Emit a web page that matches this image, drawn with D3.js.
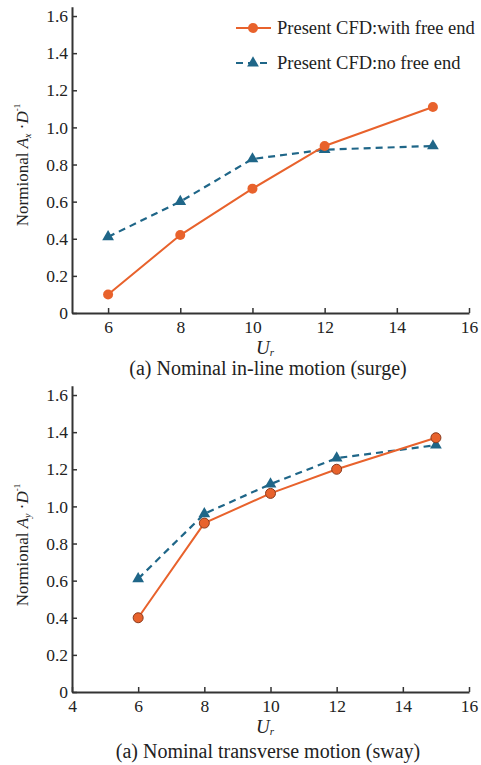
<!DOCTYPE html>
<html>
<head>
<meta charset="utf-8">
<script src="https://cdn.jsdelivr.net/npm/d3@7"></script>
<style>
  body { margin: 0; background: #fff; }
  svg { font-family: "Liberation Serif", "Times New Roman", serif; }
</style>
</head>
<body>
<svg id="chart" width="481" height="765"></svg>
<script>

var UR = [6, 8, 10, 12, 15];

// (a) surge
var surgeFree = [0.10, 0.42, 0.67, 0.90, 1.11];
var surgeNoFree = [0.41, 0.60, 0.83, 0.88, 0.90];

// (b) sway
var swayFree = [0.40, 0.91, 1.07, 1.20, 1.37];
var swayNoFree = [0.61, 0.96, 1.12, 1.26, 1.33];

var Y_TICKS = [0, 0.2, 0.4, 0.6, 0.8, 1.0, 1.2, 1.4, 1.6];
var X_TICKS_TOP = [6, 8, 10, 12, 14, 16];
var X_TICKS_BOT = [4, 6, 8, 10, 12, 14, 16];

var LEGEND = ["Present CFD:with free end", "Present CFD:no free end"];

var ORANGE = "#e8622c";
var BLUE = "#1f6688";
var AXIS = "#333";
var SERIF = "Liberation Serif, Times New Roman, serif";

var svg = d3.select("#chart");

var fmt = function(d) { return d === 0 ? "0" : d3.format(".1f")(d); };

var panel = function(opt) {
  var x = d3.scaleLinear().domain(opt.xdom).range([opt.left, opt.right]);
  var y = d3.scaleLinear().domain([0, 1.65]).range([opt.bottom, opt.bottom - 1.65 * 185.6]);

  var g = svg.append("g");

  var ax = g.append("g")
    .attr("transform", "translate(0," + opt.bottom + ")")
    .call(d3.axisBottom(x).tickValues(opt.xticks).tickSizeInner(-5).tickSizeOuter(0).tickPadding(8));
  var ay = g.append("g")
    .attr("transform", "translate(" + opt.left + ",0)")
    .call(d3.axisLeft(y).tickValues(Y_TICKS).tickFormat(fmt).tickSizeInner(-5).tickSizeOuter(0).tickPadding(4));

  [ax, ay].forEach(function(a) {
    a.attr("font-family", SERIF);
    a.select(".domain").attr("stroke", AXIS).attr("stroke-width", 2);
    a.selectAll(".tick line").attr("stroke", AXIS).attr("stroke-width", 1.5);
    a.selectAll("text").attr("fill", "#222").style("font-size", "17.5px");
  });

  var line = d3.line()
    .x(function(d, i) { return x(UR[i]); })
    .y(function(d) { return y(d); });

  g.append("path").datum(opt.noFree)
    .attr("d", line).attr("fill", "none")
    .attr("stroke", BLUE).attr("stroke-width", 2.2).attr("stroke-dasharray", "7,5");
  g.append("path").datum(opt.free)
    .attr("d", line).attr("fill", "none")
    .attr("stroke", ORANGE).attr("stroke-width", 2);

  var tri = d3.symbol().type(d3.symbolTriangle).size(60);
  g.selectAll(".tri").data(opt.noFree).enter().append("path")
    .attr("transform", function(d, i) { return "translate(" + x(UR[i]) + "," + y(d) + ")"; })
    .attr("d", tri).attr("fill", BLUE);

  g.selectAll(".dot").data(opt.free).enter().append("circle")
    .attr("cx", function(d, i) { return x(UR[i]); })
    .attr("cy", function(d) { return y(d); })
    .attr("r", 5)
    .attr("fill", ORANGE)
    .attr("stroke", opt.outline ? "#8a3b1e" : "none")
    .attr("stroke-width", 1);

  // y title
  var yt = g.append("text")
    .attr("transform", "translate(28," + opt.ymid + ") rotate(-90)")
    .attr("text-anchor", "middle")
    .style("font-size", "17px").attr("fill", "#222");
  yt.append("tspan").text("Normional  ");
  yt.append("tspan").style("font-style", "italic").text("A");
  yt.append("tspan").style("font-style", "italic").style("font-size", "10px").attr("dy", 3).text(opt.sub);
  yt.append("tspan").attr("dy", -3).text(" \u00b7");
  yt.append("tspan").style("font-style", "italic").text("D");
  yt.append("tspan").style("font-size", "9px").attr("dy", -8).text("-1");

  // x title
  var xt = g.append("text")
    .attr("x", 265).attr("y", opt.bottom + 41)
    .attr("text-anchor", "middle")
    .style("font-size", "19px").style("font-style", "italic").attr("fill", "#222");
  xt.append("tspan").text("U");
  xt.append("tspan").style("font-size", "11px").attr("dy", 2).text("r");

  g.append("text")
    .attr("x", 268).attr("y", opt.bottom + opt.capOff)
    .attr("text-anchor", "middle")
    .style("font-size", "20px").attr("fill", "#222")
    .text(opt.caption);

  return g;
};

panel({
  xdom: [5, 16], left: 72, right: 469, bottom: 313,
  xticks: X_TICKS_TOP, free: surgeFree, noFree: surgeNoFree,
  outline: false, sub: "x", ymid: 165, capOff: 62,
  caption: "(a) Nominal in-line motion (surge)"
});

panel({
  xdom: [4, 16], left: 72, right: 469, bottom: 692,
  xticks: X_TICKS_BOT, free: swayFree, noFree: swayNoFree,
  outline: true, sub: "y", ymid: 545, capOff: 66,
  caption: "(a) Nominal transverse motion (sway)"
});

// legend
var leg = svg.append("g");
var legY = [28, 63];
var legColors = [ORANGE, BLUE];
LEGEND.forEach(function(name, i) {
  var row = leg.append("g").attr("transform", "translate(0," + legY[i] + ")");
  row.append("line").attr("x1", 236).attr("x2", 271)
    .attr("stroke", legColors[i]).attr("stroke-width", 2)
    .attr("stroke-dasharray", i === 1 ? "7,5" : null);
  if (i === 0) {
    row.append("circle").attr("cx", 253).attr("r", 5).attr("fill", ORANGE);
  } else {
    row.append("path").attr("transform", "translate(253,0)")
      .attr("d", d3.symbol().type(d3.symbolTriangle).size(60)).attr("fill", BLUE);
  }
  row.append("text").attr("x", 277).attr("y", 6)
    .style("font-size", "18.5px").attr("fill", "#222").text(name);
});

</script>
</body>
</html>
